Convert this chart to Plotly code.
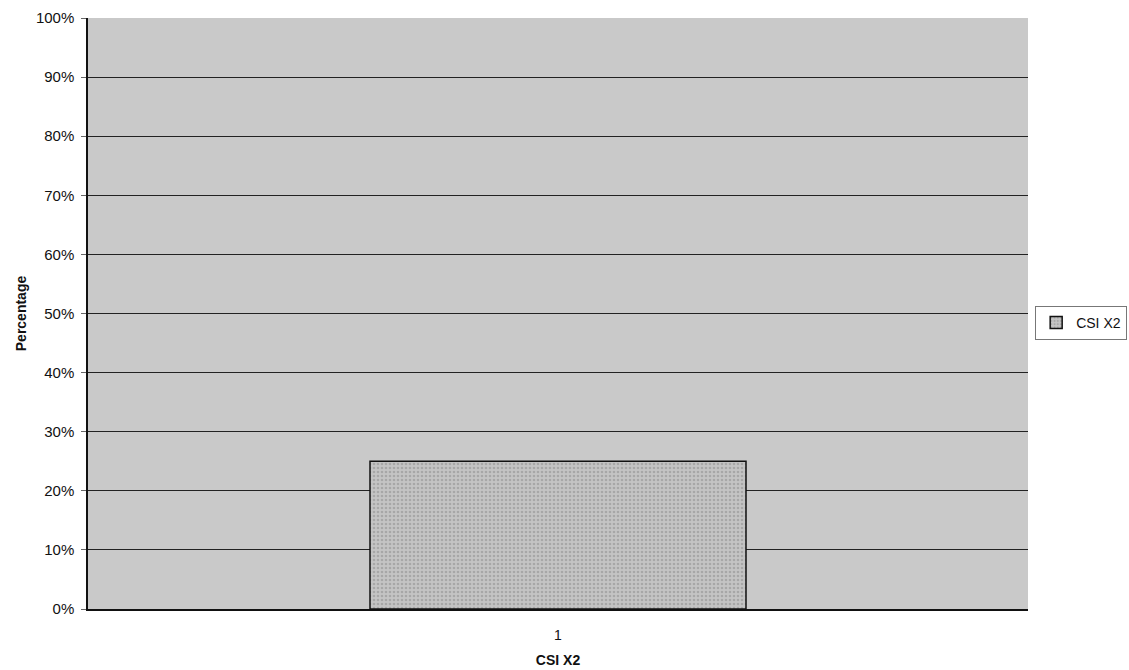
import plotly.graph_objects as go

categories = ["1"]
values = [0.25]
series_name = "CSI X2"
y_ticks = [0, 0.1, 0.2, 0.3, 0.4, 0.5, 0.6, 0.7, 0.8, 0.9, 1.0]
y_ticklabels = ["0%", "10%", "20%", "30%", "40%", "50%", "60%", "70%", "80%", "90%", "100%"]

fig = go.Figure()
fig.add_trace(go.Bar(
    x=categories, y=values, name=series_name, width=0.4,
    marker=dict(color="#bdbdbd", line=dict(color="#111111", width=1.5),
                pattern=dict(shape=".", fgcolor="#8a8a8a", bgcolor="#c4c4c4", size=4, solidity=0.35)),
    showlegend=True,
))

fig.update_layout(
    width=1129, height=670,
    margin=dict(l=88, r=101, t=18, b=61, autoexpand=False),
    paper_bgcolor="white",
    plot_bgcolor="#c9c9c9",
    font=dict(family="Liberation Sans, Arial, sans-serif", size=14, color="#111111"),
    showlegend=True,
    legend=dict(x=1.1055, y=0.484, xanchor="right", yanchor="middle",
                bordercolor="#777777", borderwidth=1, bgcolor="white",
                font=dict(size=14, color="#111111"), itemwidth=30),
    xaxis=dict(type="category", range=[-0.5, 0.5], showgrid=False,
               showline=True, linecolor="#111111", linewidth=1.5,
               ticks="outside", ticklen=12, tickcolor="rgba(0,0,0,0)",
               tickfont=dict(size=14, color="#111111"),
               title=dict(text="<b>CSI X2</b>", font=dict(size=14, color="#111111"), standoff=14)),
    yaxis=dict(range=[0, 1], tickvals=y_ticks, ticktext=y_ticklabels,
               showgrid=True, gridcolor="#222222", gridwidth=1,
               showline=True, linecolor="#111111", linewidth=1.5,
               ticks="outside", ticklen=5, tickcolor="#666666",
               ticklabelstandoff=4,
               zeroline=False, tickfont=dict(size=15, color="#111111"),
               title=dict(text="<b>Percentage</b>", font=dict(size=14, color="#111111"), standoff=6)),
)

fig.write_html("out.html")
